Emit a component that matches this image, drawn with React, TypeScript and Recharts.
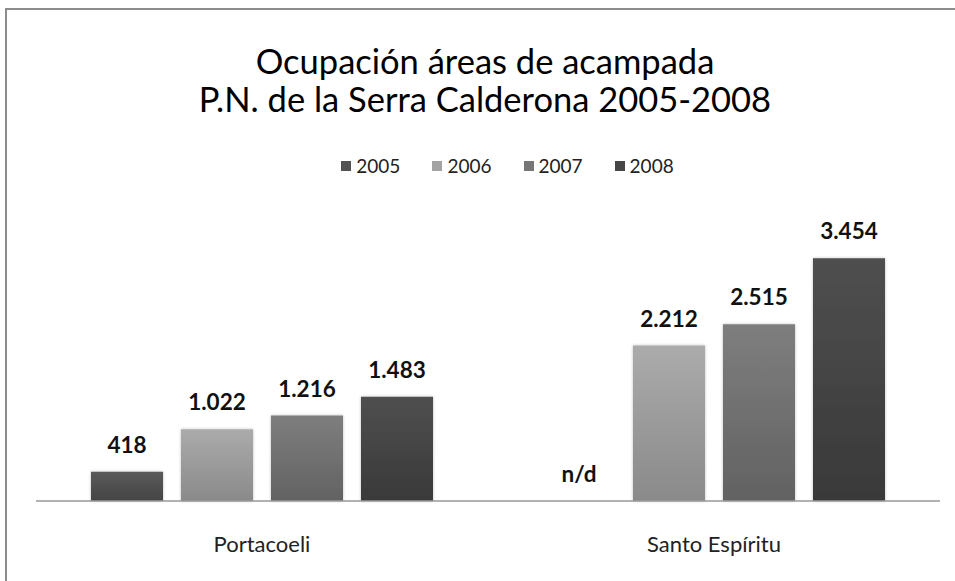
import React from "react";
import { BarChart, Bar, XAxis, YAxis, Legend, LabelList, Cell } from "recharts";

const categories = ["Portacoeli", "Santo Espíritu"];
const years = ["2005", "2006", "2007", "2008"];
const values2005: (number | null)[] = [418, null];
const values2006 = [1022, 2212];
const values2007 = [1216, 2515];
const values2008 = [1483, 3454];

const seriesValues = [values2005, values2006, values2007, values2008];
const topColors = ["#5a5a5a", "#ababab", "#7e7e7e", "#4f4f4f"];
const bottomColors = ["#444444", "#8a8a8a", "#626262", "#393939"];
const legendColors = ["#525252", "#a3a3a3", "#767676", "#464646"];

const data = categories.map((name, i) => {
  const row: Record<string, string | number | null> = { name };
  years.forEach((y, j) => {
    row["y" + y] = seriesValues[j][i];
  });
  return row;
});

const FONT = "Lato, 'Open Sans', sans-serif";

// 1022 -> "1.022", missing -> "n/d"
const fmt = (v: any) =>
  typeof v === "number" ? String(v).replace(/\B(?=(\d{3})+(?!\d))/g, ".") : String(v);

const ValueLabel = (props: any) => {
  const { x, y, width, height, value } = props;
  const cx = Number(x) + Number(width) / 2;
  // missing values get a hidden 1px stub, so measure from its bottom edge
  const top = typeof value === "number" ? Number(y) : Number(y) + Number(height);
  return (
    <text
      x={cx}
      y={top - 19}
      textAnchor="middle"
      fontFamily={FONT}
      fontWeight={700}
      fontSize={22.5}
      fill="#111"
    >
      {fmt(value)}
    </text>
  );
};

const CategoryTick = (props: any) => {
  const { x, y, payload } = props;
  return (
    <text x={x} y={y + 43} textAnchor="middle" fontFamily={FONT} fontSize={22} fill="#222">
      {payload.value}
    </text>
  );
};

const LegendContent = () => (
  <div
    style={{
      display: "flex",
      justifyContent: "center",
      gap: 32,
      fontFamily: FONT,
      fontSize: 19,
      color: "#222",
      paddingLeft: 60,
    }}
  >
    {years.map((y, i) => (
      <div key={y} style={{ display: "flex", alignItems: "center", gap: 5 }}>
        <span style={{ width: 10, height: 10, background: legendColors[i], display: "inline-block" }} />
        <span>{y}</span>
      </div>
    ))}
  </div>
);

export default function App() {
  return (
    <div style={{ position: "absolute", left: 0, top: 0, width: 955, height: 581, background: "#fff", overflow: "hidden" }}>
      <div
        style={{
          position: "absolute",
          left: 5,
          top: 8,
          width: 1000,
          height: 700,
          border: "2px solid #8c8c8c",
        }}
      />
      <div
        style={{
          position: "absolute",
          left: 0,
          top: 42,
          width: 970,
          textAlign: "center",
          fontFamily: FONT,
          fontSize: 34.5,
          lineHeight: "38px",
          color: "#000",
        }}
      >
        <div>Ocupación áreas de acampada</div>
        <div>P.N. de la Serra Calderona 2005-2008</div>
      </div>
      <BarChart
        width={955}
        height={581}
        data={data}
        margin={{ top: 220, right: 15, left: 36, bottom: 50 }}
        barCategoryGap={55}
        barGap={18}
        style={{ position: "absolute", left: 0, top: 0 }}
      >
        <defs>
          {years.map((y, i) => (
            <linearGradient key={y} id={"grad" + y} x1="0" y1="0" x2="0" y2="1">
              <stop offset="0%" stopColor={topColors[i]} />
              <stop offset="100%" stopColor={bottomColors[i]} />
            </linearGradient>
          ))}
          <filter id="shadow" x="-10%" y="-10%" width="120%" height="120%">
            <feDropShadow dx="0" dy="0" stdDeviation="1.5" floodColor="#000" floodOpacity="0.25" />
          </filter>
        </defs>
        <XAxis
          dataKey="name"
          tickLine={false}
          axisLine={{ stroke: "#999", strokeWidth: 1.5 }}
          height={30}
          tick={<CategoryTick />}
          interval={0}
        />
        <YAxis hide domain={[0, 4000]} />
        <Legend
          verticalAlign="middle"
          align="center"
          wrapperStyle={{ top: 154, left: 0, width: 955 }}
          content={<LegendContent />}
        />
        {years.map((y) => (
          <Bar
            key={y}
            dataKey={(row: any) => row["y" + y] ?? 0}
            name={y}
            fill={`url(#grad${y})`}
            filter="url(#shadow)"
            minPointSize={1}
            isAnimationActive={false}
          >
            {data.map((row, i) => (
              <Cell
                key={i}
                fill={row["y" + y] == null ? "transparent" : `url(#grad${y})`}
              />
            ))}
            <LabelList dataKey={(row: any) => row["y" + y] ?? "n/d"} content={<ValueLabel />} />
          </Bar>
        ))}
      </BarChart>
    </div>
  );
}
